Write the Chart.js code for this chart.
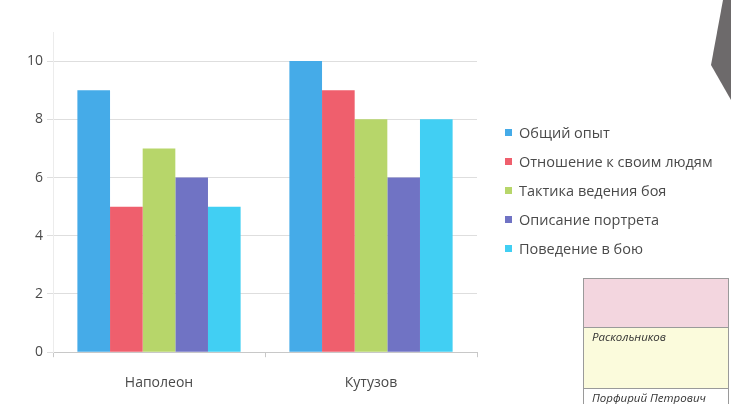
<!DOCTYPE html>
<html>
<head>
<meta charset="utf-8">
<script src="https://cdn.jsdelivr.net/npm/chart.js@4"></script>
<style>
  html, body { margin: 0; padding: 0; background: #fff; }
  #wrap { position: relative; width: 731px; height: 404px; overflow: hidden; }
  #chart { position: absolute; left: 0; top: 0; }
  .shape {
    position: absolute; left: 0; top: 0; width: 731px; height: 404px;
    background: #6d6a6b;
    clip-path: polygon(723px 0, 731px 0, 731px 100px, 711px 65px);
  }
  #legend {
    position: absolute; left: 505px; top: 124px;
    font-family: "Open Sans", sans-serif; font-size: 14.5px; color: #4a4a4a;
  }
  #legend div { height: 29px; line-height: 18px; white-space: nowrap; }
  #legend span {
    display: inline-block; width: 7px; height: 7px; margin-right: 7px; vertical-align: 2px;
  }
  .table {
    position: absolute; left: 583px; top: 278px; width: 146px; height: 130px;
    border: 1px solid #9a9a9a; box-sizing: border-box;
    font-family: "Open Sans", sans-serif; font-style: italic; font-size: 11.5px; color: #333;
  }
  .row1 { height: 48px; background: #f3d6df; border-bottom: 1px solid #9a9a9a; }
  .row2 { height: 61px; background: #fbfbdc; border-bottom: 1px solid #9a9a9a; padding: 1px 0 0 8px; box-sizing: border-box; }
  .row3 { padding: 1px 0 0 8px; }
</style>
</head>
<body>
<div id="wrap">
  <canvas id="chart" width="731" height="404"></canvas>
  <div id="legend"></div>
  <div class="shape"></div>
  <div class="table">
    <div class="row1"></div>
    <div class="row2">Раскольников</div>
    <div class="row3">Порфирий Петрович</div>
  </div>
</div>
<script>
// Data
const categories = ["Наполеон", "Кутузов"];
const seriesNames = ["Общий опыт", "Отношение к своим людям", "Тактика ведения боя", "Описание портрета", "Поведение в бою"];
const generalExperience = [9, 10];
const attitudeToPeople = [5, 9];
const battleTactics = [7, 8];
const portrait = [6, 6];
const battleBehaviour = [5, 8];
const seriesColors = ["#45abe8", "#ef5f6d", "#b7d66a", "#7073c4", "#41cff3"];
const yTicks = [0, 2, 4, 6, 8, 10];

const values = [generalExperience, attitudeToPeople, battleTactics, portrait, battleBehaviour];
const font = { family: "'Open Sans', sans-serif", size: 14 };

const ctx = document.getElementById("chart").getContext("2d");
const chart = new Chart(ctx, {
  type: "bar",
  data: {
    labels: categories,
    datasets: seriesNames.map((name, i) => ({
      label: name,
      data: values[i],
      backgroundColor: seriesColors[i],
      borderWidth: 0,
      categoryPercentage: 0.77,
      barPercentage: 1
    }))
  },
  options: {
    responsive: false,
    animation: false,
    layout: { padding: { top: 32, left: 23, right: 254, bottom: -4 } },
    plugins: {
      tooltip: { enabled: false },
      legend: { display: false }
    },
    scales: {
      x: {
        grid: { drawOnChartArea: false, offset: true, tickLength: 5, color: "#c8c8c8" },
        border: { color: "#c8c8c8" },
        ticks: { padding: 17, color: "#4a4a4a", font: font }
      },
      y: {
        min: 0,
        max: 11,
        afterBuildTicks: scale => { scale.ticks = yTicks.map(v => ({ value: v })); },
        grid: { color: "#dedede", tickLength: 6 },
        border: { display: true, color: "#ececec" },
        ticks: { padding: 4, color: "#4a4a4a", font: font }
      }
    }
  }
});

// Legend, built from the chart's own datasets
const legend = document.getElementById("legend");
chart.data.datasets.forEach(ds => {
  const row = document.createElement("div");
  row.innerHTML = `<span style="background:${ds.backgroundColor}"></span>${ds.label}`;
  legend.appendChild(row);
});
</script>
</body>
</html>
